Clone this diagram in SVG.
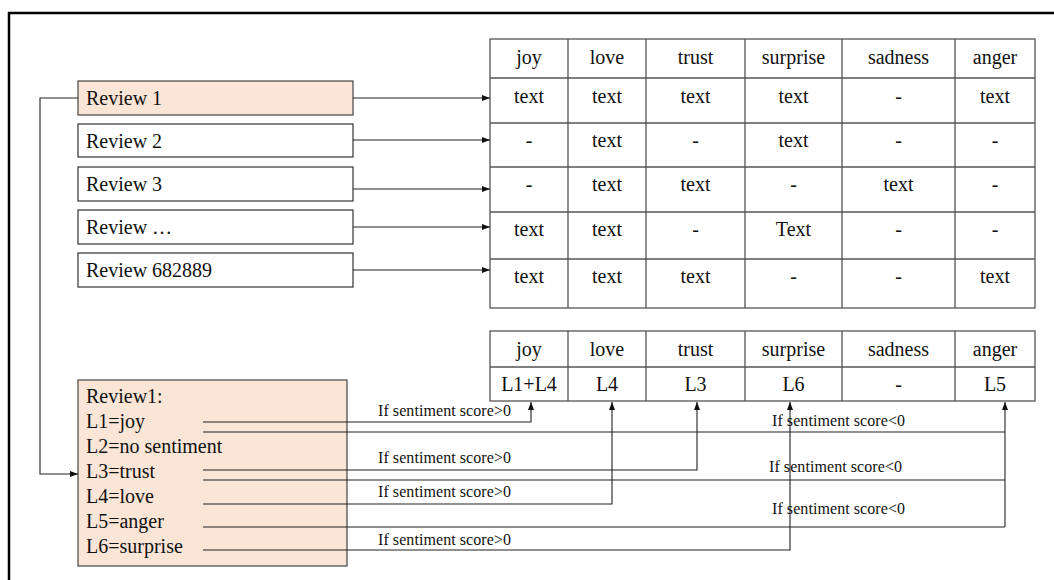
<svg xmlns="http://www.w3.org/2000/svg" width="1054" height="580" viewBox="0 0 1054 580">
<style>
text{font-family:"Liberation Serif","Times New Roman",serif;fill:#111}
.t{font-size:20px}
.c{text-anchor:middle}
.lbl{font-size:16px}
.box{fill:#fff;stroke:#333;stroke-width:1.2}
.pk{fill:#fbe5d6;stroke:#444;stroke-width:1.2}
.grid{fill:none;stroke:#555;stroke-width:1.3}
.ln{fill:none;stroke:#222;stroke-width:1.1}
</style>
<defs>
<marker id="ah" viewBox="0 0 8 6" refX="8" refY="3" markerWidth="8" markerHeight="6" markerUnits="userSpaceOnUse" orient="auto">
<path d="M0,0 L8,3 L0,6 z" fill="#111"/>
</marker>
</defs>
<rect x="0" y="0" width="1054" height="580" fill="#fff"/>
<g id="frame">
<path d="M9,580 V13 H1054" fill="none" stroke="#000" stroke-width="2.5"/>
</g>
<g id="review1"><rect class="pk" x="78" y="81" width="275" height="34"/><text class="t" x="86" y="105">Review 1</text></g>
<g id="review2"><rect class="box" x="78" y="124" width="275" height="33"/><text class="t" x="86" y="148">Review 2</text></g>
<g id="review3"><rect class="box" x="78" y="167" width="275" height="34"/><text class="t" x="86" y="191">Review 3</text></g>
<g id="review4"><rect class="box" x="78" y="210" width="275" height="34"/><text class="t" x="86" y="234">Review …</text></g>
<g id="review5"><rect class="box" x="78" y="253" width="275" height="34"/><text class="t" x="86" y="277">Review 682889</text></g>
<g id="table-top">
<rect class="grid" x="490" y="39" width="545" height="269"/>
<path class="grid" d="M568,39V308M646,39V308M745,39V308M842,39V308M955,39V308M490,78H1035M490,123H1035M490,167H1035M490,212H1035M490,259H1035"/>
<g class="t c">
<text x="529" y="64">joy</text><text x="607" y="64">love</text><text x="695.5" y="64">trust</text><text x="793.5" y="64">surprise</text><text x="898.5" y="64">sadness</text><text x="995" y="64">anger</text>
<text x="529" y="103">text</text><text x="607" y="103">text</text><text x="695.5" y="103">text</text><text x="793.5" y="103">text</text><text x="898.5" y="103">-</text><text x="995" y="103">text</text>
<text x="529" y="147">-</text><text x="607" y="147">text</text><text x="695.5" y="147">-</text><text x="793.5" y="147">text</text><text x="898.5" y="147">-</text><text x="995" y="147">-</text>
<text x="529" y="191">-</text><text x="607" y="191">text</text><text x="695.5" y="191">text</text><text x="793.5" y="191">-</text><text x="898.5" y="191">text</text><text x="995" y="191">-</text>
<text x="529" y="236">text</text><text x="607" y="236">text</text><text x="695.5" y="236">-</text><text x="793.5" y="236">Text</text><text x="898.5" y="236">-</text><text x="995" y="236">-</text>
<text x="529" y="283">text</text><text x="607" y="283">text</text><text x="695.5" y="283">text</text><text x="793.5" y="283">-</text><text x="898.5" y="283">-</text><text x="995" y="283">text</text>
</g>
</g>
<g id="table-bottom">
<rect class="grid" x="490" y="331" width="545" height="70"/>
<path class="grid" d="M568,331V401M646,331V401M745,331V401M842,331V401M955,331V401M490,367H1035"/>
<g class="t c">
<text x="529" y="356">joy</text><text x="607" y="356">love</text><text x="695.5" y="356">trust</text><text x="793.5" y="356">surprise</text><text x="898.5" y="356">sadness</text><text x="995" y="356">anger</text>
<text x="529" y="391">L1+L4</text><text x="607" y="391">L4</text><text x="695.5" y="391">L3</text><text x="793.5" y="391">L6</text><text x="898.5" y="391">-</text><text x="995" y="391">L5</text>
</g>
</g>
<g id="review1-detail">
<rect class="pk" x="78" y="380" width="269" height="186"/>
<text class="t" x="86" y="403">Review1:</text>
<text class="t" x="86" y="428">L1=joy</text>
<text class="t" x="86" y="453">L2=no sentiment</text>
<text class="t" x="86" y="478">L3=trust</text>
<text class="t" x="86" y="503">L4=love</text>
<text class="t" x="86" y="528">L5=anger</text>
<text class="t" x="86" y="553">L6=surprise</text>
</g>
<g id="connectors">
<path class="ln" d="M353,98H490" marker-end="url(#ah)"/>
<path class="ln" d="M353,140H490" marker-end="url(#ah)"/>
<path class="ln" d="M353,189H490" marker-end="url(#ah)"/>
<path class="ln" d="M353,227H490" marker-end="url(#ah)"/>
<path class="ln" d="M353,270H490" marker-end="url(#ah)"/>
<path class="ln" d="M78,98H40V474H78" marker-end="url(#ah)"/>
<path class="ln" d="M203,422H531V402" marker-end="url(#ah)"/>
<path class="ln" d="M203,470H697V402" marker-end="url(#ah)"/>
<path class="ln" d="M203,504H612V402" marker-end="url(#ah)"/>
<path class="ln" d="M203,550H790V402" marker-end="url(#ah)"/>
<path class="ln" d="M203,432H1005M203,480H1005M203,527H1005"/>
<path class="ln" d="M1005,527V402" marker-end="url(#ah)"/>
<g class="lbl">
<text x="378" y="416" textLength="133" lengthAdjust="spacing">If sentiment score&gt;0</text>
<text x="378" y="463" textLength="133" lengthAdjust="spacing">If sentiment score&gt;0</text>
<text x="378" y="497" textLength="133" lengthAdjust="spacing">If sentiment score&gt;0</text>
<text x="378" y="545" textLength="133" lengthAdjust="spacing">If sentiment score&gt;0</text>
<text x="772" y="426" textLength="133" lengthAdjust="spacing">If sentiment score&lt;0</text>
<text x="769" y="472" textLength="133" lengthAdjust="spacing">If sentiment score&lt;0</text>
<text x="772" y="514" textLength="133" lengthAdjust="spacing">If sentiment score&lt;0</text>
</g>
</g>
</svg>
